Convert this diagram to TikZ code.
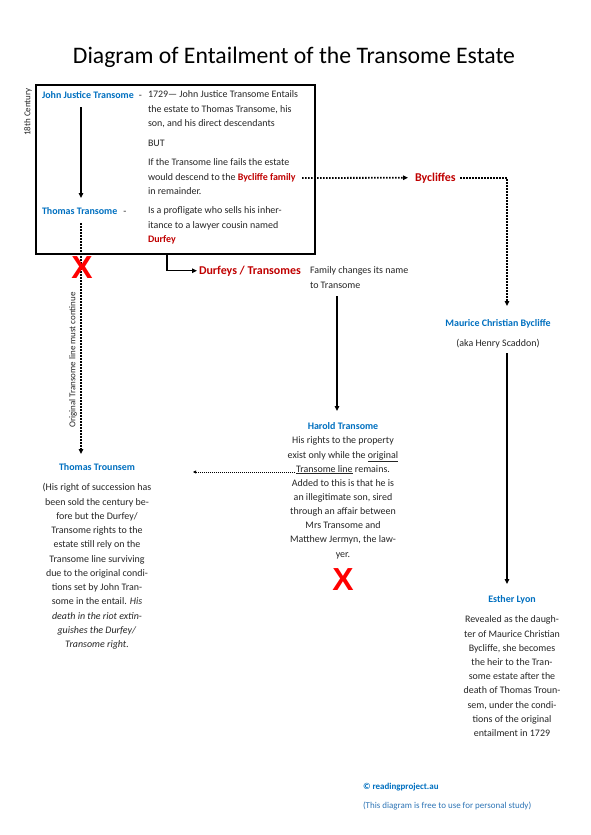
\documentclass[tikz,border=0pt]{standalone}
\usepackage{fontspec}
\setmainfont{Carlito}
\newfontfamily\xfont{Liberation Sans}
\usetikzlibrary{arrows.meta}
\definecolor{hblue}{HTML}{0070C0}
\definecolor{dred}{HTML}{C00000}
\definecolor{xred}{HTML}{FF0000}
\definecolor{fblue}{HTML}{2E75B6}
\definecolor{txt}{HTML}{262626}
\begin{document}
\begin{tikzpicture}[x=1bp,y=-1bp,
  every node/.style={inner sep=0pt, outer sep=0pt, text=txt},
  body/.style={font=\fontsize{10}{14.3}\selectfont},
  para/.style={body, align=center, anchor=north},
  lpara/.style={body, align=left, anchor=north west},
  head/.style={font=\fontsize{10}{14.3}\selectfont\bfseries, text=hblue},
  small/.style={font=\fontsize{9}{11}\selectfont},
  redbig/.style={font=\fontsize{12}{14}\selectfont\bfseries, text=dred},
  xmark/.style={font=\xfont\fontsize{32}{32}\selectfont\bfseries, text=xred},
  solidarrow/.style={line width=1.5bp, -{Triangle[length=5bp,width=4.5bp]}},
  dotarrow/.style={line width=1.8bp, dash pattern=on 1.5bp off 1.5bp, -{Triangle[length=5bp,width=4.5bp]}},
  thindot/.style={line width=0.8bp, dash pattern=on 1bp off 1bp, -{Triangle[length=3bp,width=3bp]}},
]
\path[use as bounding box, fill=white] (0,0) rectangle (591,835);

% title
\node[font=\fontsize{23.8}{28}\selectfont, text=black, anchor=base] (title) at (294,63) {Diagram of Entailment of the Transome Estate};

% box
\draw[line width=2bp] (36,85) rectangle (315,254);
\node[small, rotate=90] (century) at (28,112) {18th Century};

\node[head, anchor=base west] (john) at (42,98) {John Justice Transome\hspace{5bp}\textcolor{txt}{\mdseries -}};
\node[head, anchor=base west] (thomas) at (42,214) {Thomas Transome\hspace{6bp}\textcolor{txt}{\mdseries -}};

\node[lpara] (t1) at (148,88) {\strut 1729— John Justice Transome Entails\\the estate to Thomas Transome, his\\son, and his direct descendants};
\node[body, anchor=base west] (but) at (148,146) {BUT};
\node[lpara] (t2) at (148,156) {\strut If the Transome line fails the estate\\would descend to the \textcolor{dred}{\bfseries Bycliffe family}\\in remainder.};
\node[lpara] (t3) at (148,204) {\strut Is a profligate who sells his inher-\\itance to a lawyer cousin named\\\textcolor{dred}{\bfseries Durfey}};

\coordinate (jt1) at (81,107);
\coordinate (jt2) at (81,198);
\draw[solidarrow] (jt1) -- (jt2);

% original line
\coordinate (tl1) at (81,223);
\coordinate (tl2) at (81,454);
\draw[dotarrow] (tl1) -- (tl2);
\node[xmark] (x1) at (82,268) {X};
\node[small, rotate=90] (orig) at (73,360) {Original Transome line must continue};

% Durfeys
\coordinate (d1) at (167,254);
\node[redbig, anchor=base west] (durfeys) at (199,274) {Durfeys / Transomes};
\draw[solidarrow, shorten >=2bp] (d1) |- (durfeys.west);
\node[lpara] (fam) at (310,264) {\strut Family changes its name\\to Transome};

% Bycliffes
\coordinate (b1) at (302,178);
\node[redbig, anchor=base west] (byc) at (415,181) {Bycliffes};
\draw[dotarrow, shorten >=7bp] (b1) -- (byc.west);
\coordinate (b2) at (460,178);
\coordinate (b3) at (507,306);
\draw[dotarrow] (b2) -| (b3);

% Harold
\coordinate (h1) at (337,296);
\coordinate (h2) at (337,411);
\draw[solidarrow] (h1) -- (h2);
\node[head, anchor=base] (harold) at (343,429) {Harold Transome};
\node[para, font=\fontsize{10}{14.2}\selectfont] (hp) at (343,434) {\strut His rights to the property\\exist only while the \underline{original}\\\underline{Transome line} remains.\\Added to this is that he is\\an illegitimate son, sired\\through an affair between\\Mrs Transome and\\Matthew Jermyn, the law-\\yer.};
\node[xmark] (x2) at (343,580) {X};
\coordinate (hl1) at (295,472);
\coordinate (hl2) at (193,472);
\draw[thindot] (hl1) -- (hl2);

% Thomas Trounsem
\node[head, anchor=base] (trounsem) at (97,470) {Thomas Trounsem};
\node[para] (tp) at (97,481) {\strut (His right of succession has\\been sold the century be-\\fore but the Durfey/\\Transome rights to the\\estate still rely on the\\Transome line surviving\\due to the original condi-\\tions set by John Tran-\\some in the entail. \textit{His}\\\textit{death in the riot extin-}\\\textit{guishes the Durfey/}\\\textit{Transome right.}};

% Maurice
\node[head, anchor=base] (maurice) at (498,326) {Maurice Christian Bycliffe};
\node[body, anchor=base] (aka) at (498,346) {(aka Henry Scaddon)};
\coordinate (m1) at (507,353);
\coordinate (m2) at (507,584);
\draw[solidarrow] (m1) -- (m2);

% Esther
\node[head, anchor=base] (esther) at (512,602) {Esther Lyon};
\node[para, font=\fontsize{10}{14.25}\selectfont] (ep) at (512,613) {\strut Revealed as the daugh-\\ter of Maurice Christian\\Bycliffe, she becomes\\the heir to the Tran-\\some estate after the\\death of Thomas Troun-\\sem, under the condi-\\tions of the original\\entailment in 1729};

% footer
\node[font=\fontsize{9}{11}\selectfont\bfseries, text=hblue, anchor=base west] (copy) at (363,789) {© readingproject.au};
\node[font=\fontsize{9}{11}\selectfont, text=fblue, anchor=base west] (free) at (363,808) {(This diagram is free to use for personal study)};
\end{tikzpicture}
\end{document}
